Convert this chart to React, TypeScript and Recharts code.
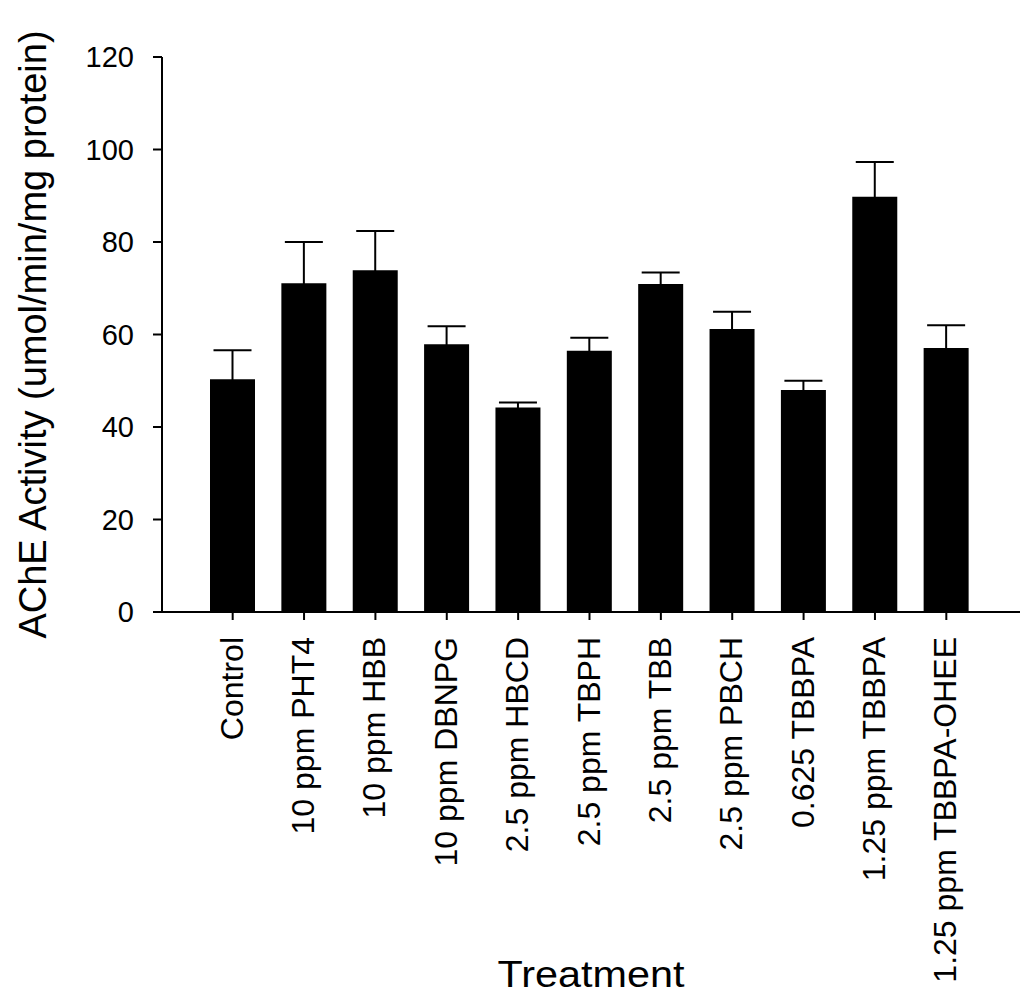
// AChE activity by treatment, bar chart with upper error bars

import { BarChart, Bar, XAxis, YAxis, ErrorBar } from 'recharts'

const treatments = [
    'Control',
    '10 ppm PHT4',
    '10 ppm HBB',
    '10 ppm DBNPG',
    '2.5 ppm HBCD',
    '2.5 ppm TBPH',
    '2.5 ppm TBB',
    '2.5 ppm PBCH',
    '0.625 TBBPA',
    '1.25 ppm TBBPA',
    '1.25 ppm TBBPA-OHEE',
]
const activity = [50.3, 71.1, 73.9, 57.9, 44.2, 56.5, 70.9, 61.2, 48.0, 89.8, 57.1]
const errors = [6.3, 8.9, 8.5, 3.9, 1.1, 2.8, 2.5, 3.7, 2.0, 7.5, 4.9]
const yTicks = [0, 20, 40, 60, 80, 100, 120]

const data = treatments.map((name, i) => ({ name, value: activity[i], err: errors[i] }))

const FONT = '"Liberation Sans", Arial, sans-serif'

function XTick({ x, y, payload }: any) {
    return (
        <g transform={`translate(${x},${y})`}>
            <text transform="rotate(-90)" x={0} y={10} textAnchor="end"
                fontSize={32} fontFamily={FONT} fill="#000">
                {payload.value}
            </text>
        </g>
    )
}

export default function App() {
    return (
        <div style={{ position: 'absolute', left: 0, top: 0, background: '#fff' }}>
            <BarChart width={1024} height={1004} data={data}
                margin={{ top: 57, right: 4, left: 0, bottom: 0 }}>
                <XAxis
                    dataKey="name"
                    interval={0}
                    height={392}
                    padding={{ left: 35, right: 38 }}
                    axisLine={{ stroke: '#000', strokeWidth: 2 }}
                    tickLine={{ stroke: '#000', strokeWidth: 2 }}
                    tickSize={8}
                    tickMargin={17}
                    tick={<XTick />}
                    label={({ viewBox }: any) => (
                        <text x={viewBox.x + viewBox.width / 2} y={987} textAnchor="middle"
                            fontSize={36} textLength={187} lengthAdjust="spacingAndGlyphs"
                            fontFamily={FONT} fill="#000">
                            Treatment
                        </text>
                    )}
                />
                <YAxis
                    width={162}
                    domain={[0, 120]}
                    ticks={yTicks}
                    interval={0}
                    axisLine={{ stroke: '#000', strokeWidth: 2 }}
                    tickLine={{ stroke: '#000', strokeWidth: 2 }}
                    tickSize={9}
                    tickMargin={19}
                    tick={{ fontSize: 29, fontFamily: FONT, fill: '#000' }}
                    label={({ viewBox }: any) => {
                        const cy = viewBox.y + viewBox.height / 2
                        return (
                            <text x={46} y={cy} transform={`rotate(-90, 46, ${cy})`} textAnchor="middle"
                                fontSize={38} fontFamily={FONT} fill="#000">
                                AChE Activity (umol/min/mg protein)
                            </text>
                        )
                    }}
                />
                <Bar dataKey="value" fill="#000" barSize={45} isAnimationActive={false}>
                    <ErrorBar dataKey="err" width={19} stroke="#000" strokeWidth={2} />
                </Bar>
            </BarChart>
        </div>
    )
}
